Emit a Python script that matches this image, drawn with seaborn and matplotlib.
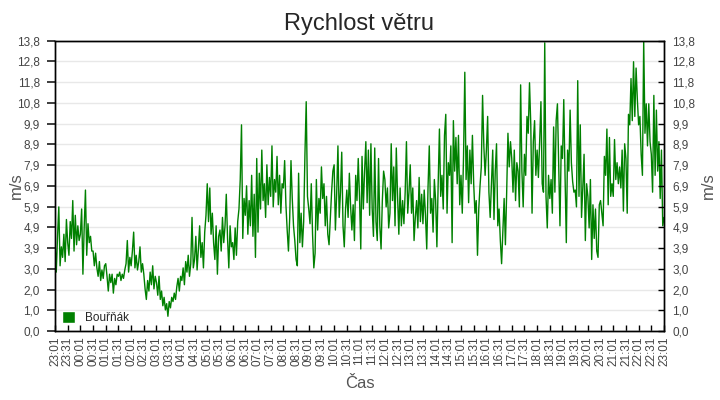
import numpy as np
import pandas as pd
import matplotlib
matplotlib.use('Agg')
import matplotlib.pyplot as plt
import matplotlib.dates as mdates
from matplotlib.patches import Patch
from matplotlib.ticker import FuncFormatter
import seaborn as sns

# rychlost vetru po 3 minutach (m/s)
noc = [4.3, 2.8, 4.5, 5.9, 3.1, 4.0, 3.5, 4.6, 3.3, 5.3,
       4.2, 3.6, 5.2, 4.4, 6.2, 3.8, 5.5, 4.1, 5.0, 4.3,
       4.6, 5.8, 2.7, 4.9, 6.7, 3.6, 5.1, 4.2, 4.5, 3.8,
       3.8, 3.1, 3.7, 3.0, 2.6, 3.3, 2.4, 2.9, 2.5, 3.1,
       3.2, 2.6, 1.9, 2.7, 2.3, 2.7, 1.8, 2.5, 2.2, 2.7,
       2.6, 2.8, 2.4, 2.7, 2.5, 2.9, 3.2, 4.3, 2.8, 3.5,
       3.1, 3.8, 4.7, 3.0, 3.6, 2.9, 3.3, 4.0, 2.8, 3.2,
       2.7, 2.0, 1.5, 2.4, 1.9, 2.8, 2.2, 3.1, 2.0, 2.6,
       2.3, 1.7, 2.6, 1.5, 1.9, 1.2, 1.6, 1.0, 1.3, 0.7,
       1.4, 1.1, 1.6, 1.4, 1.8, 1.5, 2.1, 2.5, 1.9, 2.6,
       2.4, 3.0, 2.2, 3.3, 2.8, 3.6, 2.6, 3.2, 5.4, 3.0,
       3.4, 4.5, 2.9, 3.9, 5.0, 3.5, 4.2, 3.0, 4.7, 5.5]

dopoledne = [7.0, 5.2, 6.8, 4.6, 5.6, 4.2, 3.4, 5.0, 2.7, 4.5,
             4.8, 3.8, 5.4, 4.2, 5.0, 6.5, 4.4, 3.0, 5.0, 4.0,
             4.2, 3.4, 4.9, 3.6, 5.2, 5.8, 7.2, 9.8, 4.4, 6.3,
             5.5, 6.9, 4.6, 6.2, 5.0, 7.4, 4.5, 6.5, 3.5, 8.2,
             4.7, 7.5, 5.8, 8.6, 6.2, 7.0, 5.4, 7.9, 6.0, 7.3,
             6.4, 8.8, 5.9, 7.2, 6.6, 8.3, 6.0, 7.4, 5.6, 7.0,
             6.8, 8.1, 6.0, 4.8, 3.8, 5.4, 8.1, 6.3, 5.0, 4.3,
             3.4, 3.1, 7.5, 4.2, 5.6, 4.0, 5.2, 8.4, 10.9, 6.4,
             5.8, 5.1, 7.0, 4.6, 3.0, 3.7, 7.2, 4.8, 6.3, 5.6,
             7.8, 6.3, 7.0, 5.0, 6.4, 4.6, 4.1, 5.4, 6.6, 7.6,
             7.9, 4.8, 6.5, 8.8, 5.4, 6.6, 8.5, 5.0, 4.0, 5.8,
             6.7, 5.4, 7.5, 5.9, 4.8, 6.0, 4.3, 7.4, 6.2, 8.2]

odpoledne = [6.4, 3.9, 8.3, 5.8, 7.6, 9.0, 6.1, 8.6, 5.5, 8.9,
             5.8, 4.5, 8.7, 5.2, 4.3, 8.2, 5.0, 3.9, 6.2, 7.6,
             7.2, 5.9, 6.8, 4.9, 5.6, 8.9, 6.2, 7.8, 5.0, 8.7,
             6.4, 4.6, 6.8, 5.0, 6.2, 5.1, 6.6, 9.0, 5.6, 6.6,
             7.9, 5.6, 6.8, 4.3, 5.4, 6.2, 4.9, 7.3, 5.2, 6.5,
             5.1, 6.7, 5.5, 3.9, 6.8, 8.8, 5.6, 6.3, 4.7, 7.2,
             6.2, 4.0, 7.0, 9.6, 6.4, 7.4, 5.8, 9.3, 10.3, 5.6,
             8.0, 7.4, 8.8, 4.2, 10.0, 7.6, 9.2, 7.0, 9.3, 6.0,
             7.4, 5.6, 8.3, 12.3, 7.2, 8.8, 6.1, 8.6, 7.0, 9.3,
             7.0, 5.6, 6.2, 3.6, 5.8, 6.9, 7.8, 11.2, 8.8, 7.4,
             8.6, 10.2, 6.6, 5.4, 7.0, 8.6, 5.3, 7.6, 8.9, 5.0,
             5.8, 4.3, 3.2, 4.8, 6.3, 4.1, 6.6, 9.4, 7.8, 9.0]

vecer = [8.2, 6.6, 8.6, 6.2, 8.0, 7.6, 5.9, 11.7, 7.6, 5.9,
         8.4, 7.4, 10.2, 9.4, 11.8, 9.8, 5.6, 9.0, 10.0, 7.4,
         8.6, 7.3, 9.0, 10.9, 7.0, 6.6, 13.7, 6.4, 4.9, 7.4,
         6.3, 7.2, 5.6, 9.7, 6.6, 10.0, 10.8, 7.8, 5.0, 8.8,
         8.2, 11.0, 7.4, 4.2, 8.6, 7.6, 10.5, 8.0, 7.1, 6.6,
         6.7, 5.9, 11.9, 6.4, 9.8, 5.4, 6.8, 8.4, 4.3, 7.0,
         6.4, 4.9, 7.2, 3.4, 6.0, 4.4, 5.8, 3.8, 3.5, 6.0,
         6.2, 5.6, 5.0, 8.3, 7.4, 9.6, 6.0, 9.2, 6.4, 7.0,
         6.4, 9.1, 7.2, 8.0, 7.0, 7.8, 6.8, 8.6, 5.7, 8.9,
         8.2, 5.6, 10.3, 9.8, 12.0, 10.0, 12.8, 10.2, 12.5, 11.0,
         9.8, 10.2, 8.4, 7.4, 13.8, 9.4, 10.8, 8.8, 10.8, 9.0,
         8.4, 6.6, 11.2, 7.4, 10.5, 7.6, 9.0, 6.3, 8.6, 5.0,
         5.4]

rychlost = np.array(noc + dopoledne + odpoledne + vecer)
cas = pd.date_range('2024-05-01 23:01', periods=len(rychlost), freq='3min')
y_max = 13.8
y_ticks = np.linspace(0, y_max, 15)

sns.set_theme(style='white')
plt.rcParams['font.family'] = ['Liberation Sans', 'DejaVu Sans']

fmt = FuncFormatter(lambda v, pos: f'{v:.1f}'.replace('.', ','))
seda = '#444444'

fig = plt.figure(figsize=(7.2, 4), dpi=100)
ax = fig.add_axes([55 / 720, 1 - 331 / 400, 609 / 720, 290.3 / 400])

sns.lineplot(x=cas, y=rychlost, ax=ax, color='#008000', linewidth=1.0)

ax.set_xlim(cas[0], cas[-1])
ax.set_ylim(0, y_max)
ax.set_yticks(y_ticks)
ax.yaxis.set_major_formatter(fmt)
ax.grid(axis='y', color='#e8e8e8', linewidth=1)
ax.set_axisbelow(True)

ax.xaxis.set_major_locator(mdates.MinuteLocator(byminute=[1, 31]))
ax.xaxis.set_major_formatter(mdates.DateFormatter('%H:%M'))
ax.tick_params(axis='x', bottom=True, direction='in', length=4, width=1,
               color='black', rotation=90, labelsize=8.5, labelcolor=seda, pad=4)
ax.tick_params(axis='y', left=False, labelsize=8.5, labelcolor=seda, pad=5)

ax.set_title('Rychlost větru', fontsize=17, pad=8)
ax.set_xlabel('Čas', fontsize=12, color='#555555', labelpad=7)
ax.set_ylabel('m/s', fontsize=12, color='#555555')
ax.yaxis.set_label_coords(-0.051, 0.5)

ax2 = ax.twinx()
ax2.set_ylim(0, y_max)
ax2.set_yticks(y_ticks)
ax2.yaxis.set_major_formatter(fmt)
ax2.grid(False)
ax2.tick_params(axis='y', right=True, direction='in', length=4, width=1,
                color='black', labelsize=8.5, labelcolor=seda, pad=6)
ax2.set_ylabel('m/s', fontsize=12, color='#555555')
ax2.yaxis.set_label_coords(1.061, 0.5)

for a in (ax, ax2):
    for s in a.spines.values():
        s.set_color('black')
        s.set_linewidth(1)

ax.legend(handles=[Patch(facecolor='#008000', label='Bouřňák')],
          loc='lower left', frameon=False, fontsize=8.5,
          handlelength=1.1, handleheight=1.1, handletextpad=0.8,
          borderaxespad=0.2)

fig.savefig('out.png', dpi=100)
